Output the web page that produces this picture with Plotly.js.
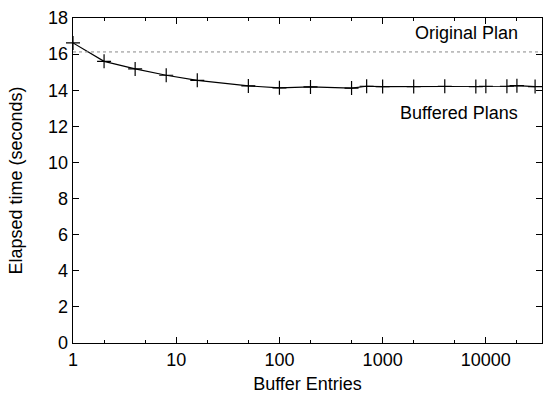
<!DOCTYPE html>
<html>
<head>
<meta charset="utf-8">
<script src="https://cdn.plot.ly/plotly-3.0.1.min.js"></script>
<style>html,body{margin:0;padding:0;background:#fff;}#chart{width:543px;height:396px;}</style>
</head>
<body>
<div id="chart"></div>
<script>
// Data
const bufferEntries = [1, 2, 4, 8, 16, 50, 100, 200, 500, 700, 1000, 2000, 4000, 8000, 10000, 16000, 20000, 30000];
const bufferedTimes = [16.62, 15.6, 15.18, 14.83, 14.55, 14.24, 14.13, 14.18, 14.12, 14.22, 14.2, 14.2, 14.22, 14.2, 14.22, 14.22, 14.25, 14.2];
const originalPlanTime = 16.12;
const seriesLabels = ["Original Plan", "Buffered Plans"];
const xTickVals = [1, 10, 100, 1000, 10000];
const xTickText = ["1", "10", "100", "1000", "10000"];
const xRange = [1, 35000];
const yRange = [0, 18];

const font = {family: "Liberation Sans, Arial, Helvetica, sans-serif", size: 18, color: "#000"};

const traces = [{
  x: bufferEntries,
  y: bufferedTimes,
  mode: "lines+markers",
  type: "scatter",
  name: seriesLabels[1],
  line: {color: "#000", width: 1.2},
  marker: {symbol: "cross-thin", size: 10, line: {color: "#000", width: 1.2}, color: "#000"},
  showlegend: false,
  cliponaxis: false
}];

const layout = {
  width: 543, height: 396,
  margin: {l: 73, r: 1, t: 18, b: 53, pad: 0},
  paper_bgcolor: "#fff", plot_bgcolor: "#fff",
  font: font,
  showlegend: false,
  xaxis: {
    type: "log",
    range: [Math.log10(xRange[0]), Math.log10(xRange[1])],
    tickmode: "array", tickvals: xTickVals, ticktext: xTickText,
    ticks: "inside", ticklen: 6, tickwidth: 1, tickcolor: "#000",
    showline: true, linecolor: "#000", linewidth: 1.3, mirror: "ticks",
    showgrid: false, zeroline: false,
    minor: {ticks: "inside", ticklen: 3, tickcolor: "#000", dtick: "D2", showgrid: false},
    tickfont: font,
    title: {text: "Buffer Entries", font: font, standoff: 8},
    automargin: false
  },
  yaxis: {
    range: yRange,
    dtick: 2, tick0: 0,
    ticks: "inside", ticklen: 6, tickwidth: 1, tickcolor: "#000",
    showline: true, linecolor: "#000", linewidth: 1.3, mirror: "ticks",
    showgrid: false, zeroline: false,
    tickfont: font,
    title: {text: "Elapsed time (seconds)", font: font, standoff: 20},
    automargin: false
  },
  shapes: [{
    type: "line", xref: "paper", x0: 0, x1: 1, yref: "y", y0: originalPlanTime, y1: originalPlanTime,
    line: {color: "#888", width: 1, dash: "dot"}
  }],
  annotations: [
    {text: seriesLabels[0], xref: "paper", yref: "paper", x: 0.953, y: 0.954, xanchor: "right", yanchor: "middle", showarrow: false, font: font},
    {text: seriesLabels[1], xref: "paper", yref: "paper", x: 0.953, y: 0.708, xanchor: "right", yanchor: "middle", showarrow: false, font: font}
  ]
};

Plotly.newPlot("chart", traces, layout, {displayModeBar: false, staticPlot: true});
</script>
</body>
</html>
